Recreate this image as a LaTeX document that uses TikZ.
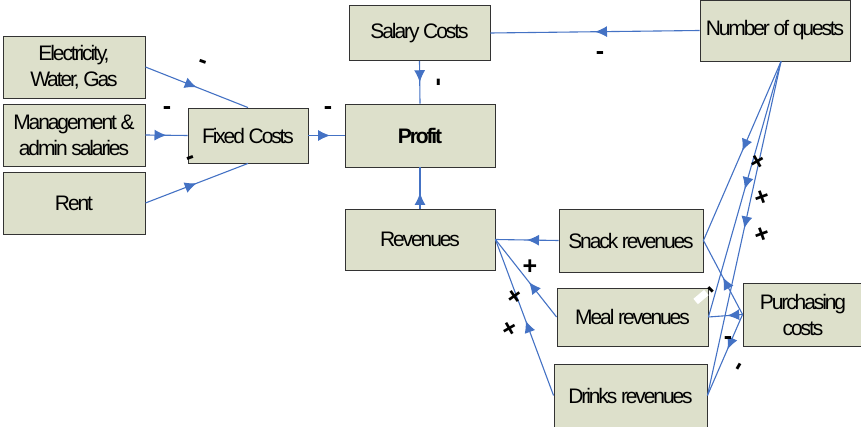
\documentclass[tikz,border=0pt]{standalone}
\usepackage{fontspec}
\setmainfont{Liberation Sans}[LetterSpace=-10]
\usetikzlibrary{arrows.meta,decorations.markings}
\definecolor{boxfill}{HTML}{DDE0CB}
\definecolor{edgeblue}{HTML}{4472C4}
\begin{document}
\begin{tikzpicture}[x=1pt,y=-1pt,
  box/.style={draw=black!80, line width=0.9pt, fill=boxfill, inner sep=0pt, align=center,
    font=\fontsize{21}{26}\selectfont},
  conn/.style={draw=edgeblue, line width=1.1pt},
  mid/.style={postaction={decorate,decoration={markings,
    mark=at position #1 with {\arrow{Latex[length=12pt,width=11pt]}}}}},
  mid/.default=0.5,
  lbl/.style={inner sep=0pt, font=\fontsize{25}{25}\selectfont\bfseries}
]
\useasboundingbox (0,0) rectangle (861,427);
% boxes
\node[box, minimum width=142pt, minimum height=62pt] (elec) at (74,67) {Electricity,\\Water, Gas};
\node[box, minimum width=142pt, minimum height=62pt] (mgmt) at (74,135) {Management \&\\admin salaries};
\node[box, minimum width=142pt, minimum height=62pt] (rent) at (74,203) {Rent};
\node[box, minimum width=120pt, minimum height=55pt] (fixed) at (248,135.5) {Fixed Costs};
\node[box, minimum width=141pt, minimum height=55pt] (salary) at (419.5,33) {Salary Costs};
\node[box, minimum width=150pt, minimum height=63pt] (profit) at (420,135.5) {\bfseries Profit};
\node[box, minimum width=150pt, minimum height=61pt] (rev) at (420,239.5) {Revenues};
\node[box, minimum width=150pt, minimum height=61pt] (guests) at (775,30.5) {Number of quests};
\node[box, minimum width=144pt, minimum height=63pt] (snack) at (631,240.5) {Snack revenues};
\node[box, minimum width=151pt, minimum height=58pt] (meal) at (632.5,317) {Meal revenues};
\node[box, minimum width=153pt, minimum height=63pt] (drinks) at (630.5,395.5) {Drinks revenues};
\node[box, minimum width=120pt, minimum height=63pt] (purch) at (803,314.5) {Purchasing\\costs};
% white patch
\node[fill=white, inner sep=0pt, minimum width=14pt, minimum height=7pt, rotate=40] (patch) at (701,297) {};
% connectors
\draw[conn, mid] (elec.east) -- (fixed.north);
\draw[conn, mid] (mgmt.east) -- (fixed.west);
\draw[conn, mid] (rent.east) -- (fixed.south);
\draw[conn, mid=0.6] (fixed.east) -- (profit.west);
\draw[conn, mid=0.5] (salary.south) -- (profit.north);
\draw[conn, mid=0.38] (rev.north) -- (profit.south);
\draw[conn, mid] (guests.west) -- (salary.east);
\draw[conn, mid] (snack.west) -- (rev.east);
\draw[conn, mid=0.45] (meal.west) -- (rev.east);
\draw[conn, mid=0.48] (drinks.west) -- (rev.east);
\draw[conn, mid] ([xshift=6pt]guests.south) -- (snack.east);
\draw[conn, mid] ([xshift=6pt]guests.south) -- (meal.east);
\draw[conn, mid] ([xshift=6pt]guests.south) -- (drinks.east);
\draw[conn, mid] (purch.west) -- (snack.east);
\draw[conn, mid=0.45] (purch.west) -- (meal.east);
\draw[conn, mid=0.43] (purch.west) -- (drinks.east);
% sign labels
\node[lbl, rotate=-20] (s1) at (202,64) {-};
\node[lbl] (s2) at (167,111) {-};
\node[lbl, rotate=20] (s3) at (191,160) {-};
\node[lbl] (s4) at (328,111) {-};
\node[lbl, rotate=90] (s5) at (441,82) {-};
\node[lbl] (s6) at (600,56) {-};
\node[lbl] (p1) at (530,267) {+};
\node[lbl, rotate=35] (p2) at (515,297) {+};
\node[lbl, rotate=30] (p3) at (510,330) {+};
\node[lbl, rotate=30] (p4) at (758,163) {+};
\node[lbl, rotate=20] (p5) at (762,198) {+};
\node[lbl, rotate=20] (p6) at (762,235) {+};
\node[lbl, rotate=-45] (s7) at (709,292) {-};
\node[lbl] (s8) at (728,341) {-};
\node[lbl, rotate=60] (s9) at (741,368) {-};
\end{tikzpicture}
\end{document}
